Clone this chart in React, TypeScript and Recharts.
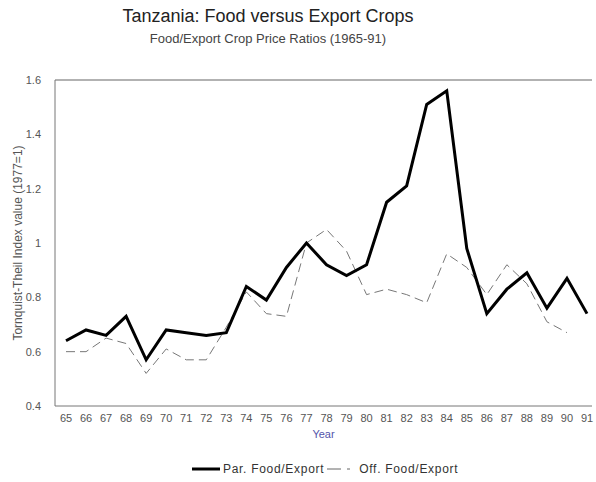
import React from 'react';
import { LineChart, Line, XAxis, YAxis, ReferenceLine } from 'recharts';

// years 1965-91, shown as two-digit labels
const years = ['65', '66', '67', '68', '69', '70', '71', '72', '73', '74', '75', '76', '77', '78',
  '79', '80', '81', '82', '83', '84', '85', '86', '87', '88', '89', '90', '91'];

// parallel market food/export price ratio
const parRatio = [0.64, 0.68, 0.66, 0.73, 0.57, 0.68, 0.67, 0.66, 0.67, 0.84, 0.79, 0.91, 1.0, 0.92,
  0.88, 0.92, 1.15, 1.21, 1.51, 1.56, 0.98, 0.74, 0.83, 0.89, 0.76, 0.87, 0.74];

// official food/export price ratio (no value for 91)
const offRatio = [0.60, 0.60, 0.65, 0.63, 0.52, 0.61, 0.57, 0.57, 0.69, 0.82, 0.74, 0.73, 1.0, 1.05,
  0.97, 0.81, 0.83, 0.81, 0.78, 0.96, 0.91, 0.81, 0.92, 0.85, 0.71, 0.67, null];

const yTicks = [0.4, 0.6, 0.8, 1, 1.2, 1.4, 1.6];

const data = years.map((year, i) => ({
  year,
  par: parRatio[i],
  off: offRatio[i],
}));

const font = "Arial, 'Liberation Sans', sans-serif";
const tickStyle = { fill: '#555', fontSize: 11, fontFamily: font };

const App: React.FC = () => {
  return (
    <div style={{ position: 'fixed', top: 0, left: 0, width: 596, height: 482, background: '#fff', fontFamily: font }}>
      <div style={{ position: 'absolute', top: 6, left: 0, width: 536, textAlign: 'center', fontSize: 18, color: '#222' }}>
        Tanzania: Food versus Export Crops
      </div>
      <div style={{ position: 'absolute', top: 31, left: 0, width: 536, textAlign: 'center', fontSize: 13, color: '#444' }}>
        Food/Export Crop Price Ratios (1965-91)
      </div>

      <LineChart width={596} height={482} data={data} margin={{ top: 80, right: 4, bottom: 0, left: 0 }}>
        <XAxis
          dataKey="year"
          height={76}
          interval={0}
          padding={{ left: 11, right: 5 }}
          stroke="#777"
          tickLine={false}
          tick={tickStyle}
          tickMargin={2}
          label={{ value: 'Year', position: 'insideTop', offset: 24, fill: '#5555aa', fontSize: 11, fontFamily: font }}
        />
        <YAxis
          domain={[0.4, 1.6]}
          ticks={yTicks}
          width={55}
          stroke="#777"
          tickLine={false}
          tickMargin={8}
          tick={tickStyle}
          tickFormatter={(v: number) => String(v)}
          label={{ value: 'Tornquist-Theil Index value (1977=1)', angle: -90, position: 'center', dx: -10, fill: '#555', fontSize: 12, fontFamily: font }}
        />
        {/* top frame line of the plot area */}
        <ReferenceLine y={1.6} stroke="#999" strokeWidth={1.5} />
        <Line
          type="linear"
          dataKey="off"
          name="Off. Food/Export"
          stroke="#777"
          strokeWidth={1}
          strokeDasharray="9 5"
          dot={false}
          isAnimationActive={false}
        />
        <Line
          type="linear"
          dataKey="par"
          name="Par. Food/Export"
          stroke="#000"
          strokeWidth={3}
          dot={false}
          isAnimationActive={false}
        />
      </LineChart>

      <div style={{ position: 'absolute', top: 462, left: 192, display: 'flex', alignItems: 'center', fontSize: 12, letterSpacing: 0.7, color: '#333', whiteSpace: 'nowrap' }}>
        <svg width={28} height={8}><line x1={0} y1={4} x2={28} y2={4} stroke="#000" strokeWidth={3} /></svg>
        <span style={{ marginLeft: 3 }}>Par. Food/Export</span>
        <svg width={28} height={8} style={{ marginLeft: 3 }}>
          <line x1={0} y1={4} x2={28} y2={4} stroke="#666" strokeWidth={1} strokeDasharray="14 6 3 5" />
        </svg>
        <span style={{ marginLeft: 4 }}>Off. Food/Export</span>
      </div>
    </div>
  );
};

export default App;
